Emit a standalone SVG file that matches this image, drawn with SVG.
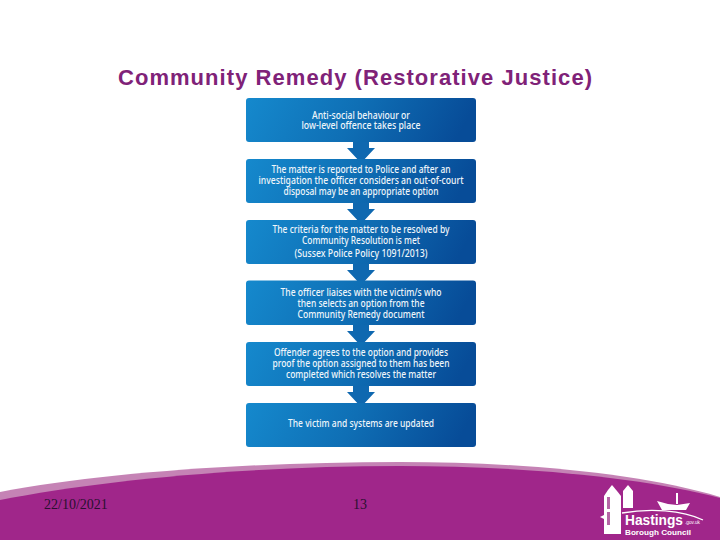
<svg xmlns="http://www.w3.org/2000/svg" width="720" height="540" viewBox="0 0 720 540">
<defs>
<linearGradient id="boxFill" x1="0" y1="0" x2="1" y2="0.1"><stop offset="0" stop-color="#1589cd"/><stop offset="0.5" stop-color="#0f6fb5"/><stop offset="1" stop-color="#074c98"/></linearGradient>
</defs>
<style>
.box{fill:url(#boxFill)}
.arrow{fill:#0f68b0}
.label{font-family:"Noto Sans","Liberation Sans",sans-serif;font-size:10px;font-weight:500;fill:#eef5fa;text-anchor:middle}
.foot{font-family:"Liberation Serif",serif;font-size:14px;fill:#2a1030}
.logo{fill:#fff}
.win{fill:#b565a5}
</style>
<rect width="720" height="540" fill="#fff"/>
<path d="M0 492C100 473 250 462 400 462C520 462 640 473 720 497V540H0Z" fill="#c583b5"/>
<path d="M0 500C100 480 250 466 400 466C520 466 640 477 720 498V540H0Z" fill="#a0268a"/>
<text x="355" y="85" text-anchor="middle" font-family="Liberation Sans,sans-serif" font-size="22" font-weight="bold" fill="#7f2278" textLength="474" lengthAdjust="spacing">Community Remedy (Restorative Justice)</text>
<g id="connectors">
<path class="arrow" d="M353 142H369V148H375L361 163L347 148H353Z"/>
<path class="arrow" d="M353 203H369V209H375L361 224L347 209H353Z"/>
<path class="arrow" d="M353 264H369V270H375L361 285L347 270H353Z"/>
<path class="arrow" d="M353 325H369V331H375L361 346L347 331H353Z"/>
<path class="arrow" d="M353 386H369V392H375L361 407L347 392H353Z"/>
</g>
<g id="node1"><rect class="box" x="246" y="98" width="230" height="44" rx="3"/>
<text class="label" x="361" y="119" textLength="98" lengthAdjust="spacingAndGlyphs">Anti-social behaviour or</text>
<text class="label" x="361" y="129" textLength="119" lengthAdjust="spacingAndGlyphs">low-level offence takes place</text></g>
<g id="node2"><rect class="box" x="246" y="159" width="230" height="44" rx="3"/>
<text class="label" x="361" y="173" textLength="179" lengthAdjust="spacingAndGlyphs">The matter is reported to Police and after an</text>
<text class="label" x="361" y="184" textLength="205" lengthAdjust="spacingAndGlyphs">investigation the officer considers an out-of-court</text>
<text class="label" x="361" y="195" textLength="155" lengthAdjust="spacingAndGlyphs">disposal may be an appropriate option</text></g>
<g id="node3"><rect class="box" x="246" y="220" width="230" height="44" rx="3"/>
<text class="label" x="361" y="233" textLength="177" lengthAdjust="spacingAndGlyphs">The criteria for the matter to be resolved by</text>
<text class="label" x="361" y="244" textLength="118" lengthAdjust="spacingAndGlyphs">Community Resolution is met</text>
<text class="label" x="361" y="257" textLength="133" lengthAdjust="spacingAndGlyphs">(Sussex Police Policy 1091/2013)</text></g>
<g id="node4"><rect class="box" x="246" y="280.5" width="230" height="44.5" rx="3"/>
<text class="label" x="361" y="296" textLength="161" lengthAdjust="spacingAndGlyphs">The officer liaises with the victim/s who</text>
<text class="label" x="361" y="307" textLength="127" lengthAdjust="spacingAndGlyphs">then selects an option from the</text>
<text class="label" x="361" y="318" textLength="127" lengthAdjust="spacingAndGlyphs">Community Remedy document</text></g>
<g id="node5"><rect class="box" x="246" y="342" width="230" height="44" rx="3"/>
<text class="label" x="361" y="356" textLength="174" lengthAdjust="spacingAndGlyphs">Offender agrees to the option and provides</text>
<text class="label" x="361" y="367" textLength="177" lengthAdjust="spacingAndGlyphs">proof the option assigned to them has been</text>
<text class="label" x="361" y="378" textLength="150" lengthAdjust="spacingAndGlyphs">completed which resolves the matter</text></g>
<g id="node6"><rect class="box" x="246" y="403" width="230" height="44" rx="3"/>
<text class="label" x="361" y="427" textLength="146" lengthAdjust="spacingAndGlyphs">The victim and systems are updated</text></g>
<text class="foot" x="44" y="509">22/10/2021</text>
<text class="foot" x="353" y="509">13</text>
<g id="logo">
<path class="logo" d="M604 534V496L608 490L612 485L617 491L621 496V534Z"/>
<path class="logo" d="M600 517L604 515V519Z"/>
<rect class="win" x="607" y="497" width="3" height="12"/>
<rect class="win" x="607" y="512" width="3" height="13"/>
<path class="logo" d="M623 508V491L628 485L633 491V508Z"/>
<path class="logo" d="M657 501L668 504L677 505L690 503L686 510H662Z"/>
<path class="logo" d="M676 493H678V504H676Z"/>
<path d="M622 513C650 508 682 510 703 520" fill="none" stroke="#fff" stroke-width="1.3"/>
<text x="625" y="524.5" font-family="Liberation Sans,sans-serif" font-size="15" font-weight="bold" fill="#fff" textLength="58" lengthAdjust="spacingAndGlyphs">Hastings</text>
<text x="685" y="524" font-family="Liberation Sans,sans-serif" font-size="4.5" fill="#fff" textLength="15" lengthAdjust="spacingAndGlyphs">.gov.uk</text>
<text x="625" y="535" font-family="Liberation Sans,sans-serif" font-weight="bold" font-size="8" fill="#fff" textLength="66" lengthAdjust="spacingAndGlyphs">Borough Council</text>
</g>
</svg>
